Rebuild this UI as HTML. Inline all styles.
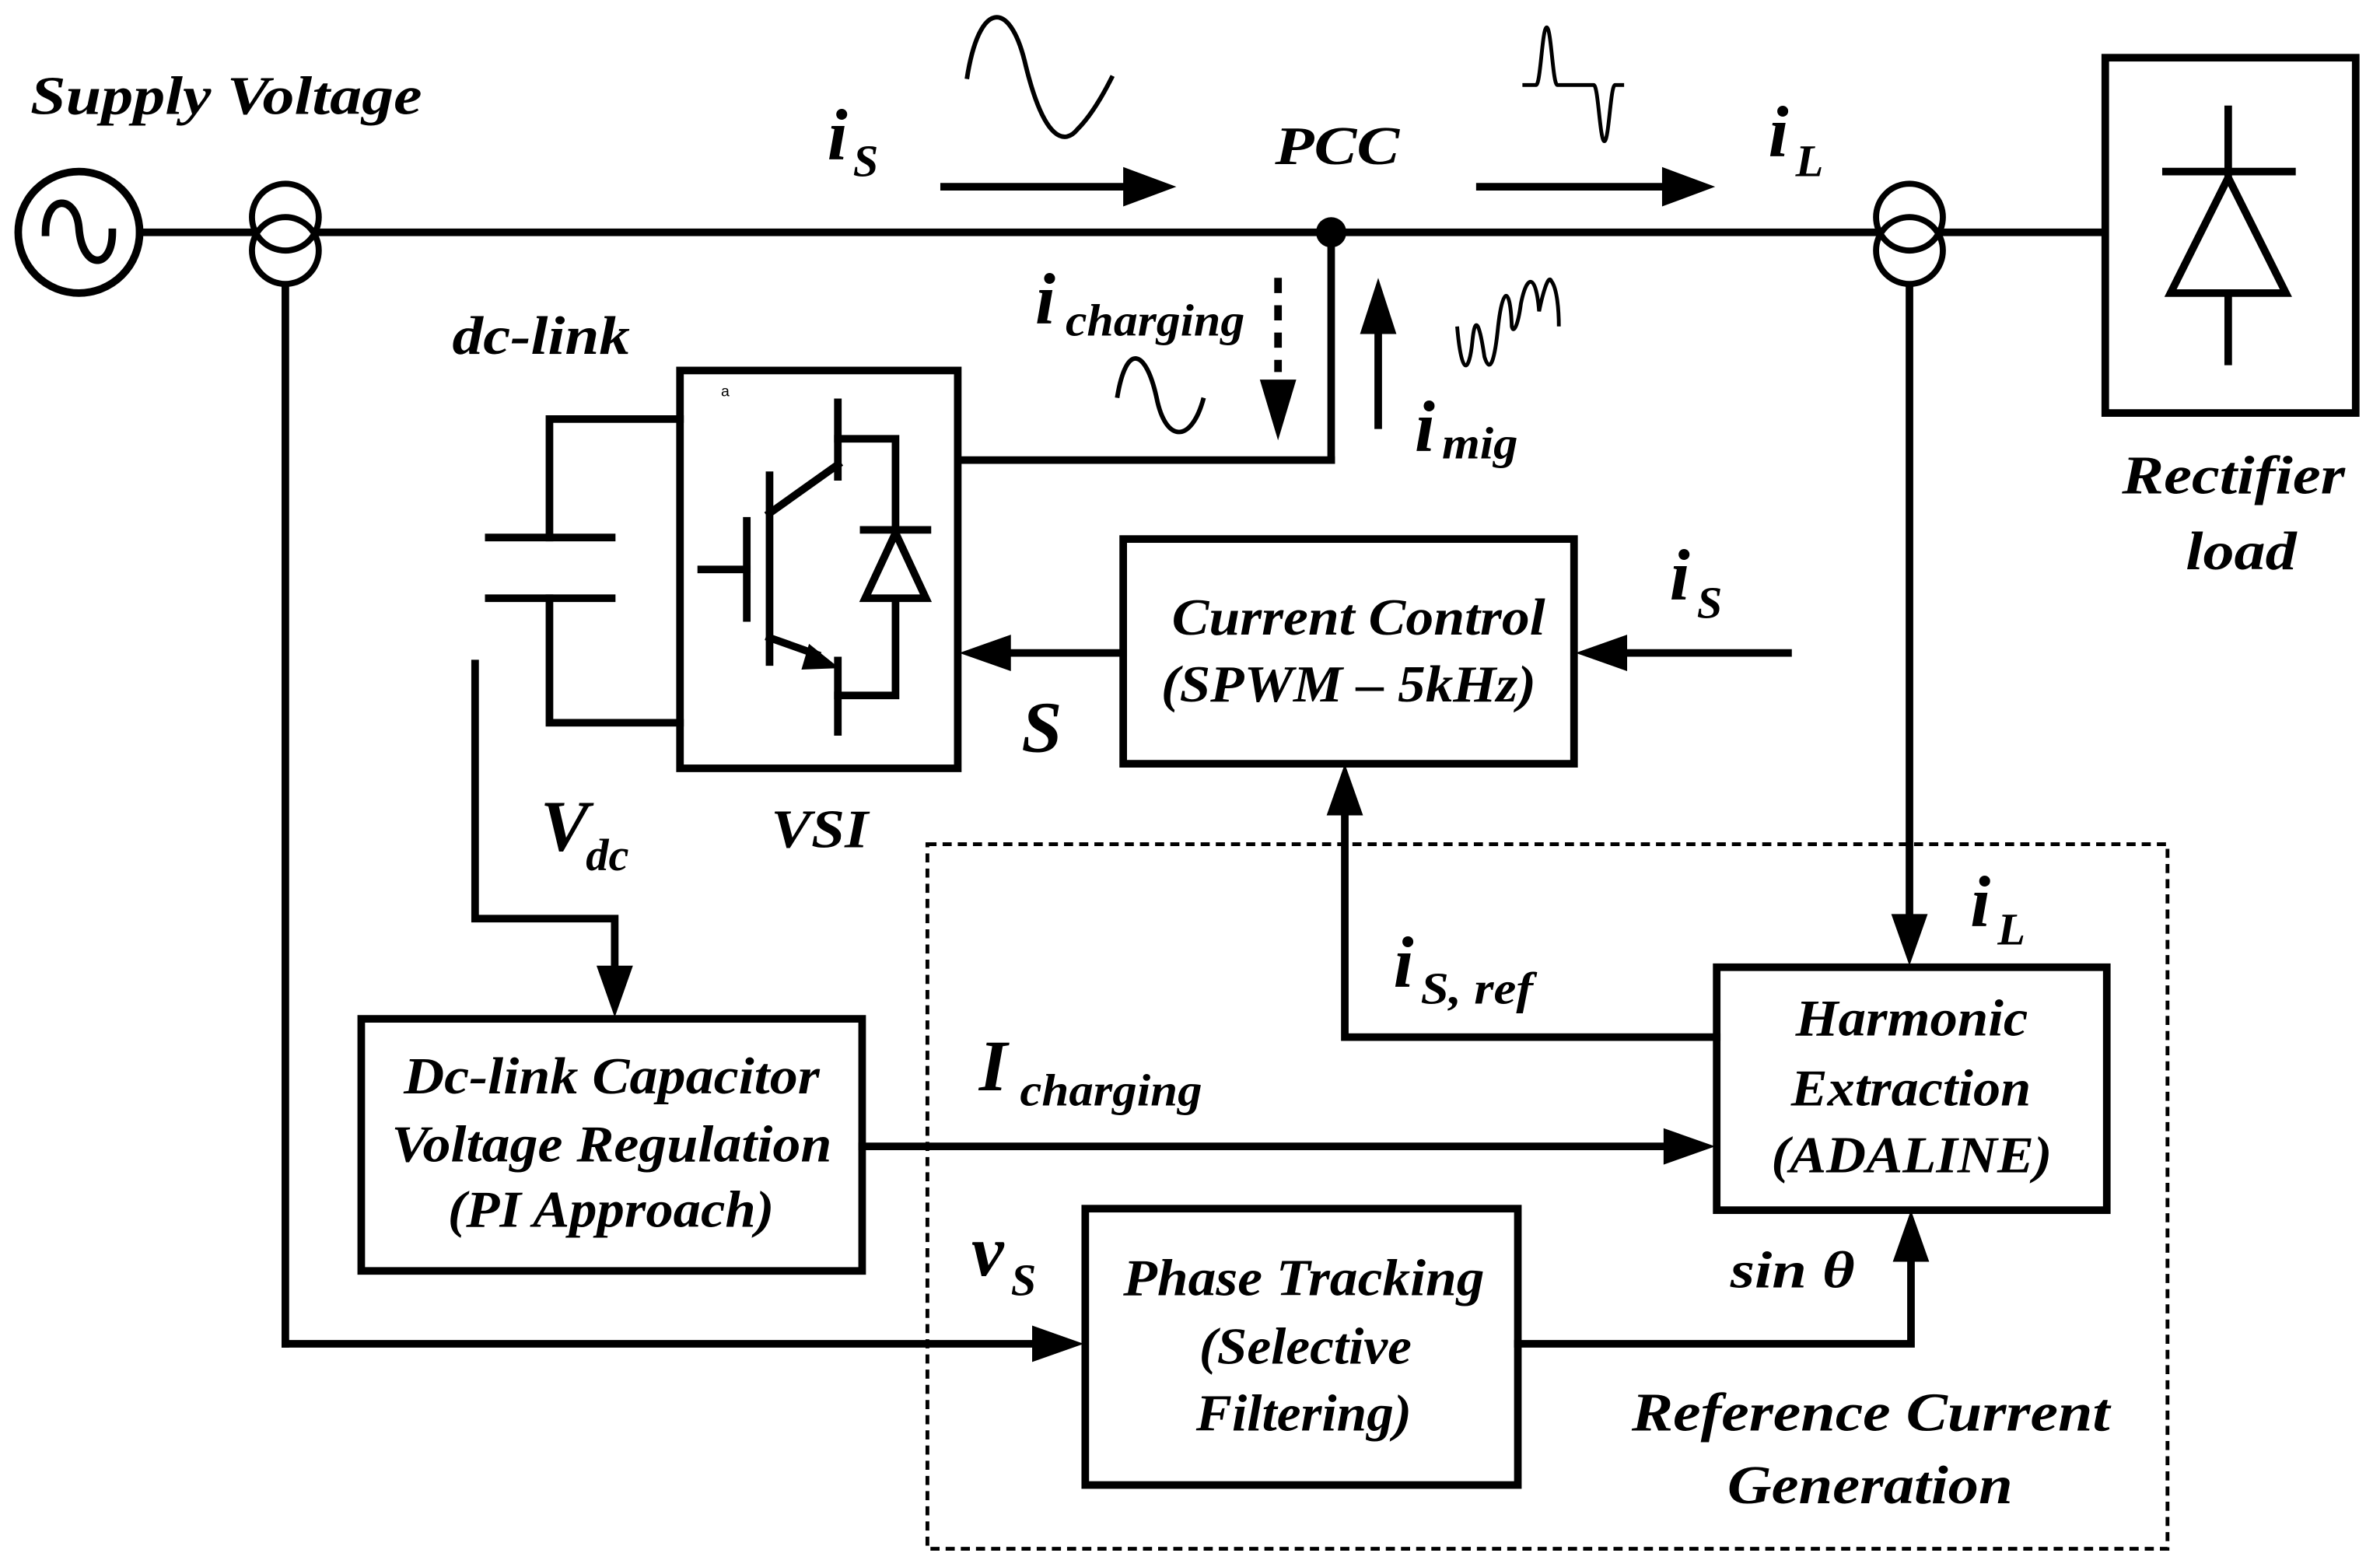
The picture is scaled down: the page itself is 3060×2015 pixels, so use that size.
<!DOCTYPE html>
<html><head><meta charset="utf-8"><style>
html,body{margin:0;padding:0;background:#fff;}
svg{display:block;}
text{font-family:"Liberation Serif",serif;font-weight:bold;font-style:italic;fill:#000;}
</style></head><body>
<svg width="3060" height="2015" viewBox="0 0 1568 1032" preserveAspectRatio="none" xmlns="http://www.w3.org/2000/svg">
<g fill="none" stroke="#000" stroke-width="5" stroke-linecap="square">
<circle cx="52" cy="153" r="40"/>
<path d="M30,153 C30,128 50,128 52,150 C54,178 74,178 74,153" stroke-width="5"/>
<line x1="92" y1="153" x2="1385" y2="153"/>
<circle cx="188" cy="143" r="22" stroke-width="4" fill="#fff"/>
<circle cx="188" cy="165" r="22" stroke-width="4" fill="none"/>
<line x1="188" y1="188" x2="188" y2="885"/>
<line x1="188" y1="885" x2="690" y2="885"/>
<circle cx="1258" cy="143" r="22" stroke-width="4" fill="#fff"/>
<circle cx="1258" cy="165" r="22" stroke-width="4"/>
<line x1="1258" y1="188" x2="1258" y2="610"/>
<rect x="1387" y="38" width="165" height="234"/>
<line x1="1468" y1="72" x2="1468" y2="238"/>
<line x1="1427" y1="113" x2="1510" y2="113"/>
<path d="M1468,117 L1430,193 L1506,193 Z" fill="#fff"/>
<line x1="877" y1="153" x2="877" y2="303"/>
<line x1="877" y1="303" x2="632" y2="303"/>
<rect x="448" y="244" width="183" height="262"/>
<line x1="322" y1="354" x2="403" y2="354"/>
<line x1="322" y1="394" x2="403" y2="394"/>
<polyline points="362,354 362,276 448,276"/>
<polyline points="362,394 362,476 448,476"/>
<line x1="552" y1="265" x2="552" y2="314"/>
<polyline points="552,289 590,289 590,458 552,458"/>
<line x1="552" y1="435" x2="552" y2="482"/>
<line x1="569" y1="349" x2="611" y2="349"/>
<path d="M590,351 L570,394 L610,394 Z" fill="#fff"/>
<line x1="507" y1="313" x2="507" y2="436"/>
<line x1="492" y1="343" x2="492" y2="407"/>
<line x1="462" y1="375" x2="492" y2="375"/>
<line x1="507" y1="338" x2="552" y2="306"/>
<line x1="507" y1="420" x2="538" y2="431"/>
<rect x="740" y="355" width="297" height="148"/>
<line x1="740" y1="430" x2="660" y2="430"/>
<line x1="1178" y1="430" x2="1065" y2="430"/>
<rect x="1131" y="637" width="257" height="160"/>
<polyline points="1131,683 886,683 886,530"/>
<polyline points="313,437 313,605 405,605 405,645"/>
<rect x="238" y="671" width="330" height="166"/>
<line x1="568" y1="755" x2="1103" y2="755"/>
<rect x="715" y="796" width="285" height="182"/>
<polyline points="1000,885 1259,885 1259,825"/>
<line x1="622" y1="123" x2="745" y2="123"/>
<line x1="975" y1="123" x2="1100" y2="123"/>
<line x1="842" y1="183" x2="842" y2="245" stroke-dasharray="10,8" stroke-linecap="butt"/>
<line x1="908" y1="280" x2="908" y2="215"/>
</g>
<rect x="611" y="556" width="817" height="464" fill="none" stroke="#000" stroke-width="2.5" stroke-dasharray="6,4"/>
<g fill="#000" stroke="none">
<circle cx="877" cy="153" r="10"/>
<path d="M775,123 L740,110 L740,136 Z"/>
<path d="M1130,123 L1095,110 L1095,136 Z"/>
<path d="M842,290 L830,250 L854,250 Z"/>
<path d="M908,183 L896,220 L920,220 Z"/>
<path d="M632,430 L666,418 L666,442 Z"/>
<path d="M1038,430 L1072,418 L1072,442 Z"/>
<path d="M886,503 L874,537 L898,537 Z"/>
<path d="M405,670 L393,636 L417,636 Z"/>
<path d="M1258,636 L1246,602 L1270,602 Z"/>
<path d="M1130,755 L1096,743 L1096,767 Z"/>
<path d="M714,885 L680,873 L680,897 Z"/>
<path d="M1259,797 L1247,831 L1271,831 Z"/>
<path d="M553,440 L533,424 L528,441 Z"/>
</g>
<g fill="none" stroke="#000" stroke-width="3">
<path d="M637,52 C645,0 665,0 675,40 C688,95 702,95 710,85 C720,75 728,60 733,50"/>
<path d="M1003,56 L1012,56 C1015,56 1016,18 1019,18 C1022,18 1023,56 1026,56 L1050,56 C1053,56 1054,93 1057,93 C1060,93 1061,56 1064,56 L1070,56" stroke-width="2.5"/>
<path d="M736,262 C742,225 755,230 762,262 C768,292 785,292 793,262" />
<path d="M960,215 C963,250 968,245 970,225 C972,205 975,215 978,235 C982,248 985,235 987,215 C990,188 995,188 996,215 C997,220 1000,215 1002,200 C1006,180 1012,180 1014,205 C1016,195 1020,180 1022,185 C1026,190 1027,205 1027,215" stroke-width="2.5"/>
</g>
<text x="20" y="75" font-size="36" textLength="258" lengthAdjust="spacingAndGlyphs">Supply Voltage</text>
<text x="545" y="105" font-size="48">i</text><text x="562" y="116" font-size="30">S</text>
<text x="840" y="108" font-size="36" textLength="82" lengthAdjust="spacingAndGlyphs">PCC</text>
<text x="1165" y="103" font-size="48">i</text><text x="1183" y="116" font-size="30">L</text>
<text x="298" y="233" font-size="36" textLength="117" lengthAdjust="spacingAndGlyphs">dc-link</text>
<text x="682" y="213" font-size="48">i</text><text x="702" y="221" font-size="30" textLength="118" lengthAdjust="spacingAndGlyphs">charging</text>
<text x="932" y="297" font-size="48">i</text><text x="950" y="302" font-size="30" textLength="50" lengthAdjust="spacingAndGlyphs">mig</text>
<text x="475" y="261" font-size="10" style="font-style:normal;font-weight:normal;font-family:'Liberation Sans',sans-serif">a</text>
<text x="1398" y="325" font-size="36" textLength="147" lengthAdjust="spacingAndGlyphs">Rectifier</text>
<text x="1440" y="375" font-size="36" textLength="73" lengthAdjust="spacingAndGlyphs">load</text>
<text x="772" y="418" font-size="34" textLength="246" lengthAdjust="spacingAndGlyphs">Current Control</text>
<text x="765" y="462" font-size="34" textLength="247" lengthAdjust="spacingAndGlyphs">(SPWM – 5kHz)</text>
<text x="1100" y="395" font-size="48">i</text><text x="1118" y="407" font-size="30">S</text>
<text x="673" y="495" font-size="48">S</text>
<text x="356" y="560" font-size="48">V</text><text x="386" y="573" font-size="30">dc</text>
<text x="508" y="558" font-size="36" textLength="64" lengthAdjust="spacingAndGlyphs">VSI</text>
<text x="1298" y="610" font-size="48">i</text><text x="1316" y="622" font-size="30">L</text>
<text x="918" y="650" font-size="48">i</text><text x="936" y="661" font-size="30" textLength="74" lengthAdjust="spacingAndGlyphs">S, ref</text>
<text x="645" y="718" font-size="48">I</text><text x="672" y="728" font-size="30" textLength="120" lengthAdjust="spacingAndGlyphs">charging</text>
<text x="266" y="720" font-size="34" textLength="274" lengthAdjust="spacingAndGlyphs">Dc-link Capacitor</text>
<text x="258" y="765" font-size="34" textLength="290" lengthAdjust="spacingAndGlyphs">Voltage Regulation</text>
<text x="295" y="808" font-size="34" textLength="215" lengthAdjust="spacingAndGlyphs">(PI Approach)</text>
<text x="1183" y="682" font-size="34" textLength="153" lengthAdjust="spacingAndGlyphs">Harmonic</text>
<text x="1180" y="728" font-size="34" textLength="158" lengthAdjust="spacingAndGlyphs">Extraction</text>
<text x="1167" y="772" font-size="34" textLength="185" lengthAdjust="spacingAndGlyphs">(ADALINE)</text>
<text x="640" y="840" font-size="48">v</text><text x="666" y="853" font-size="30">S</text>
<text x="1140" y="848" font-size="34" textLength="82" lengthAdjust="spacingAndGlyphs">sin θ</text>
<text x="740" y="853" font-size="34" textLength="238" lengthAdjust="spacingAndGlyphs">Phase Tracking</text>
<text x="790" y="898" font-size="34" textLength="140" lengthAdjust="spacingAndGlyphs">(Selective</text>
<text x="788" y="942" font-size="34" textLength="142" lengthAdjust="spacingAndGlyphs">Filtering)</text>
<text x="1075" y="942" font-size="36" textLength="315" lengthAdjust="spacingAndGlyphs">Reference Current</text>
<text x="1138" y="990" font-size="36" textLength="188" lengthAdjust="spacingAndGlyphs">Generation</text>
</svg>
</body></html>
